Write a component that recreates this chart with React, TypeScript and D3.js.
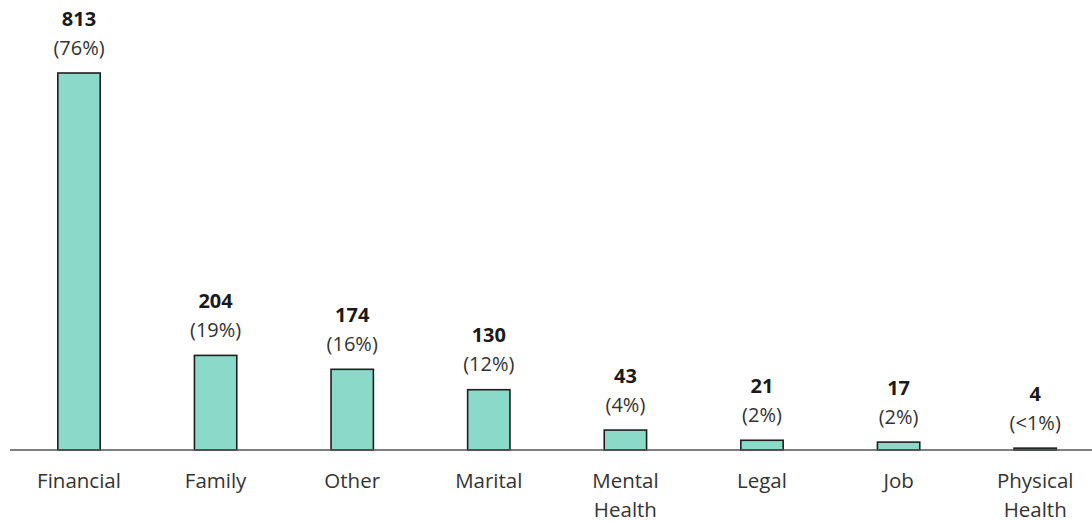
import React from "react";
import * as d3 from "d3";

const categories = ["Financial", "Family", "Other", "Marital", "Mental Health", "Legal", "Job", "Physical Health"];
const counts = [813, 204, 174, 130, 43, 21, 17, 4];
const percents = ["(76%)", "(19%)", "(16%)", "(12%)", "(4%)", "(2%)", "(2%)", "(<1%)"];

const W = 1092;
const H = 521;
const baseY = 450;
const FONT = "'Open Sans', 'DejaVu Sans', sans-serif";

export default function App() {
  const x = d3.scaleBand<string>().domain(categories).range([10.7, 1103.5]).padding(0);
  const y = d3.scaleLinear().domain([0, 813]).range([baseY, 73]);
  const barW = x.bandwidth() * 0.31;

  return (
    <svg width={W} height={H} style={{ position: "absolute", left: 0, top: 0 }}>
      <rect x={0} y={0} width={W} height={H} fill="#fff" />
      {categories.map((c, i) => {
        const cx = (x(c) as number) + x.bandwidth() / 2;
        const top = y(counts[i]);
        const words = c.split(" ");
        return (
          <g key={c}>
            <rect
              x={cx - barW / 2}
              y={top}
              width={barW}
              height={Math.max(baseY - top, 0)}
              fill="#8ad9c9"
              stroke="#1f1f1f"
              strokeWidth={1.6}
            />
            <text x={cx} y={top - 55} textAnchor="middle" dominantBaseline="central" fontFamily={FONT} fontWeight="bold" fontSize={20} fill="#1a1a1a">
              {counts[i]}
            </text>
            <text x={cx} y={top - 26} textAnchor="middle" dominantBaseline="central" fontFamily={FONT} fontSize={20} fill="#333">
              {percents[i]}
            </text>
            {words.map((w, k) => (
              <text key={k} x={cx} y={480 + k * 29} textAnchor="middle" dominantBaseline="central" fontFamily={FONT} fontSize={20.5} fill="#333">
                {w}
              </text>
            ))}
          </g>
        );
      })}
      <line x1={10} x2={W} y1={baseY} y2={baseY} stroke="#555" strokeWidth={1.5} />
    </svg>
  );
}
